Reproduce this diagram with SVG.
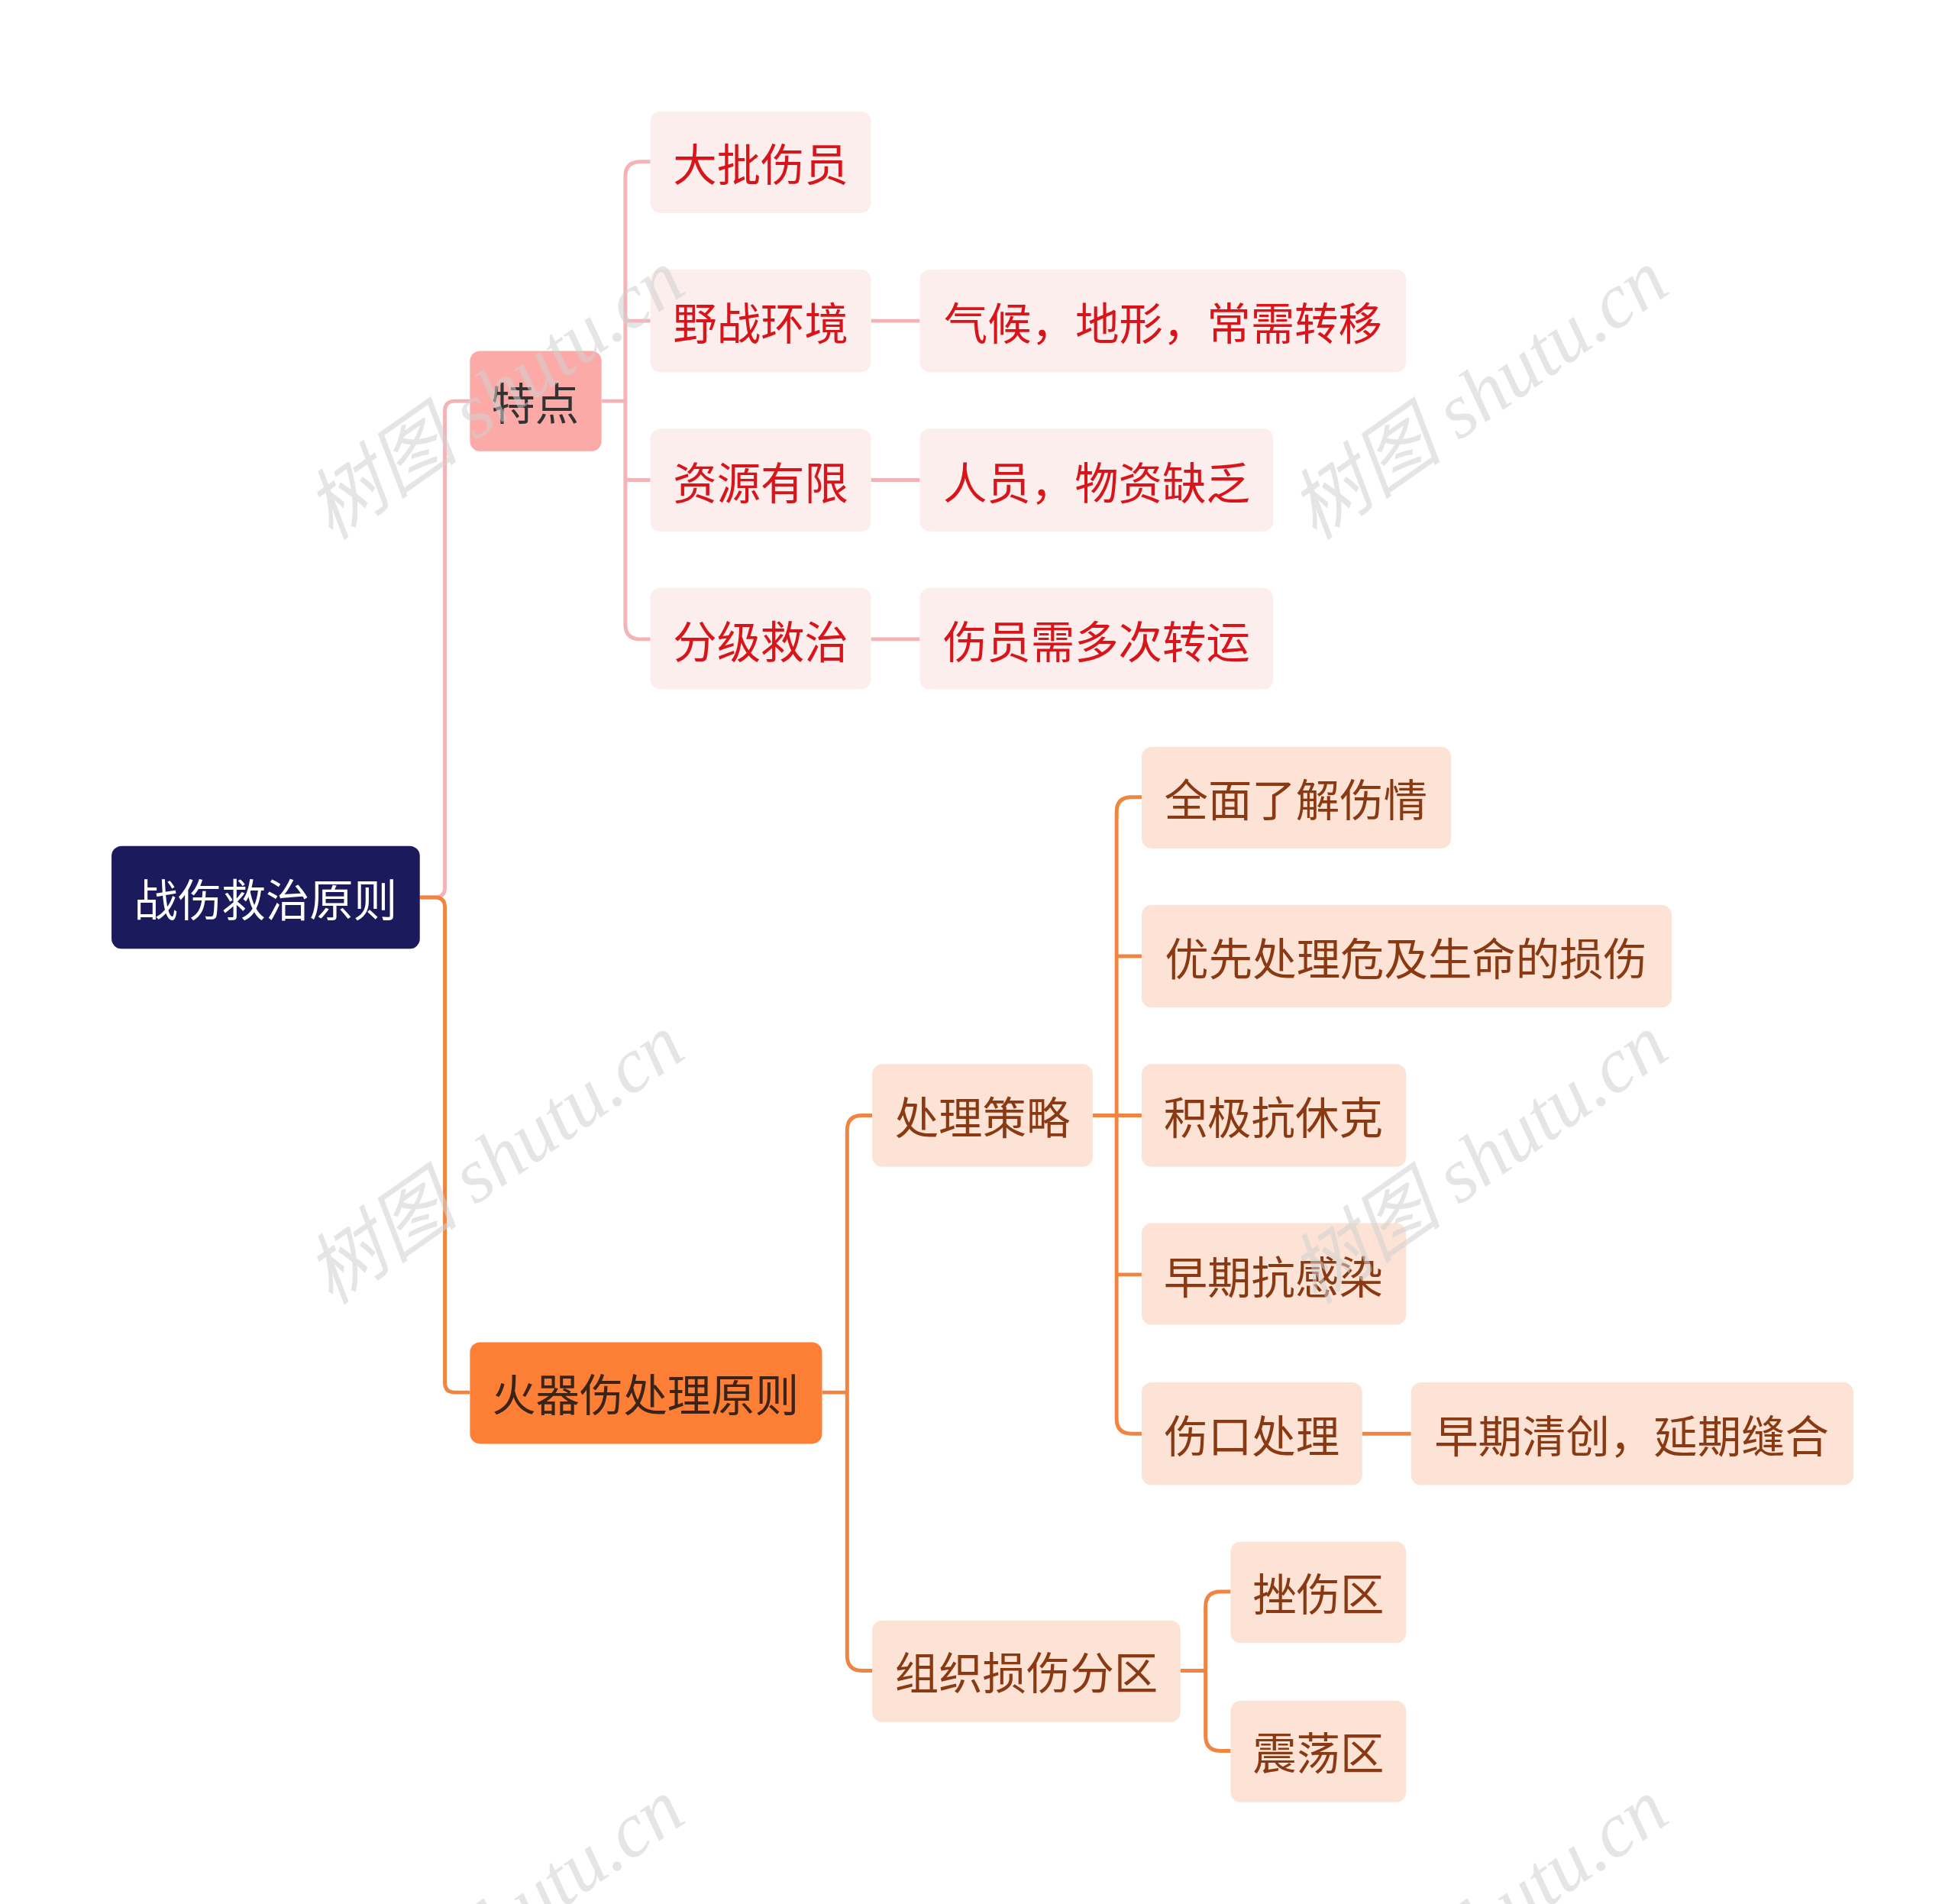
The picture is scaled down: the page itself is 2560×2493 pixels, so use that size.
<svg xmlns="http://www.w3.org/2000/svg" width="2560" height="2493" viewBox="0 0 2560 2493">
<style>
text{font-family:"Noto Sans CJK SC","Noto Sans",sans-serif;font-size:35px;text-anchor:middle;dominant-baseline:central}
.r{fill:#fdeeee}.rt{fill:#d7151a}
.o{fill:#fde3d6}.ot{fill:#8a3a12}
.pk{fill:none;stroke:#f4b3b6;stroke-width:3}
.og{fill:none;stroke:#ef8540;stroke-width:3}
.wm{font-family:"Liberation Serif","Noto Sans CJK SC",serif;font-size:62px;fill:#cfcfcf;fill-opacity:0.55;font-style:italic}
</style>
<rect width="2560" height="2493" fill="#fff"/>
<g transform="scale(1.641)">
<g id="connectors">
<path class="pk" d="M335 716H347Q355 716 355 708V328Q355 320 363 320H375"/>
<path class="og" d="M335 716H347Q355 716 355 724V1103Q355 1111 363 1111H375"/>
<path class="pk" d="M480 320H499M511 129Q499 129 499 141V498Q499 510 511 510H519M499 256Q499 256 511 256H519M499 383Q499 383 511 383H519M511 129H519"/>
<path class="pk" d="M695 256H734M695 383H734M695 510H734"/>
<path class="og" d="M656 1111H676M688 890Q676 890 676 902V1321Q676 1333 688 1333H696M688 890H696"/>
<path class="og" d="M872 890H911M903 636Q891 636 891 648V1132Q891 1144 903 1144H911M891 763Q891 763 903 763H911M891 1017Q891 1017 903 1017H911M903 636H911"/>
<path class="og" d="M1087 1144H1126"/>
<path class="og" d="M942 1333H962M974 1270Q962 1270 962 1282V1385Q962 1397 974 1397H982M974 1270H982"/>
</g>
<g id="root"><rect x="89" y="675" width="246" height="82" rx="8" fill="#1b1a5c"/><text x="212" y="716" fill="#fff">战伤救治原则</text></g>
<g id="n-tedian"><rect x="375" y="280" width="105" height="80" rx="8" fill="#fcaaa8"/><text x="427" y="320" fill="#333">特点</text></g>
<g id="n-dapi"><rect class="r" x="519" y="89" width="176" height="81" rx="8"/><text class="rt" x="607" y="129">大批伤员</text></g>
<g id="n-yezhan"><rect class="r" x="519" y="215" width="176" height="82" rx="8"/><text class="rt" x="607" y="256">野战环境</text></g>
<g id="n-qihou"><rect class="r" x="734" y="215" width="388" height="82" rx="8"/><text class="rt" x="928" y="256">气候，地形，常需转移</text></g>
<g id="n-ziyuan"><rect class="r" x="519" y="342" width="176" height="82" rx="8"/><text class="rt" x="607" y="383">资源有限</text></g>
<g id="n-renyuan"><rect class="r" x="734" y="342" width="282" height="82" rx="8"/><text class="rt" x="875" y="383">人员，物资缺乏</text></g>
<g id="n-fenji"><rect class="r" x="519" y="469" width="176" height="81" rx="8"/><text class="rt" x="607" y="510">分级救治</text></g>
<g id="n-zhuanyun"><rect class="r" x="734" y="469" width="282" height="81" rx="8"/><text class="rt" x="875" y="510">伤员需多次转运</text></g>
<g id="n-huoqi"><rect x="375" y="1071" width="281" height="81" rx="8" fill="#fd7f36"/><text x="515" y="1111" fill="#3a2418">火器伤处理原则</text></g>
<g id="n-celue"><rect class="o" x="696" y="849" width="176" height="82" rx="8"/><text class="ot" x="784" y="890">处理策略</text></g>
<g id="n-quanmian"><rect class="o" x="911" y="596" width="247" height="81" rx="8"/><text class="ot" x="1034" y="636">全面了解伤情</text></g>
<g id="n-youxian"><rect class="o" x="911" y="722" width="423" height="82" rx="8"/><text class="ot" x="1122" y="763">优先处理危及生命的损伤</text></g>
<g id="n-xiuke"><rect class="o" x="911" y="849" width="211" height="82" rx="8"/><text class="ot" x="1016" y="890">积极抗休克</text></g>
<g id="n-ganran"><rect class="o" x="911" y="976" width="211" height="81" rx="8"/><text class="ot" x="1016" y="1017">早期抗感染</text></g>
<g id="n-shangkou"><rect class="o" x="911" y="1103" width="176" height="82" rx="8"/><text class="ot" x="999" y="1144">伤口处理</text></g>
<g id="n-qingchuang"><rect class="o" x="1126" y="1103" width="353" height="82" rx="8"/><text class="ot" x="1302" y="1144">早期清创，延期缝合</text></g>
<g id="n-fenqu"><rect class="o" x="696" y="1293" width="246" height="81" rx="8"/><text class="ot" x="819" y="1333">组织损伤分区</text></g>
<g id="n-cuoshang"><rect class="o" x="982" y="1230" width="140" height="81" rx="8"/><text class="ot" x="1052" y="1270">挫伤区</text></g>
<g id="n-zhendang"><rect class="o" x="982" y="1357" width="140" height="81" rx="8"/><text class="ot" x="1052" y="1397">震荡区</text></g>
<g id="watermarks">
<text class="wm" transform="translate(395,315) rotate(-35)">树图 shutu.cn</text>
<text class="wm" transform="translate(1180,315) rotate(-35)">树图 shutu.cn</text>
<text class="wm" transform="translate(395,925) rotate(-35)">树图 shutu.cn</text>
<text class="wm" transform="translate(1180,925) rotate(-35)">树图 shutu.cn</text>
<text class="wm" transform="translate(395,1535) rotate(-35)">树图 shutu.cn</text>
<text class="wm" transform="translate(1180,1535) rotate(-35)">树图 shutu.cn</text>
</g>
</g>
</svg>
